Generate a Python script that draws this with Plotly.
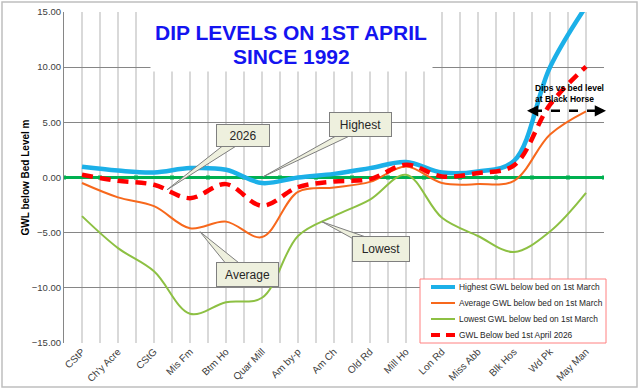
import plotly.graph_objects as go

# ---------------- data ----------------
stations = ["CStP", "Ch'y Acre", "CStG", "Mis Fm", "Btm Ho", "Quar Mill", "Am by-p",
            "Am Ch", "Old Rd", "Mill Ho", "Lon Rd", "Miss Abb", "Blk Hos", "Wd Pk", "May Man"]
highest = [0.97, 0.63, 0.45, 0.85, 0.70, -0.50, 0.00, 0.33, 0.85, 1.40, 0.45, 0.55, 1.50, 10.0, 15.5]
average = [-0.50, -1.80, -2.60, -4.60, -4.00, -5.40, -1.30, -0.90, -0.40, 1.00, -0.50, -0.60, -0.30, 3.90, 6.00]
lowest = [-3.50, -6.40, -8.50, -12.35, -11.30, -10.90, -5.30, -3.50, -2.00, 0.25, -3.65, -5.30, -6.75, -4.90, -1.40]
dip_2026 = [0.25, -0.30, -0.66, -1.87, -0.60, -2.56, -0.87, -0.36, -0.15, 1.15, 0.10, 0.40, 1.10, 6.60, 10.05]
bed_level = [0.0, 0.0, 0.0, 0.0, 0.0, 0.0, 0.0, 0.0, 0.0, 0.0, 0.0, 0.0, 0.0, 0.0, 0.0, 0.0]
y_ticks = [15, 10, 5, 0, -5, -10, -15]
series_names = ["Highest GWL below bed on 1st March", "Average GWL below bed on 1st March",
                "Lowest GWL below bed on 1st March", "GWL Below bed 1st April 2026"]

xs = list(range(len(stations)))
bounds = [i - 0.5 for i in range(len(stations) + 1)]

# helpers: pixel -> data / paper (for decoration placement only)
def xd(px):
    return (px - 82) / 36.0

def yd(py):
    return (177.7 - py) / 11.04

def xp(px):
    return (px - 64) / 540.0

def yp(py):
    return (343 - py) / 331.0

styles = {
    "highest": dict(color="#1CB0E8", width=4.5),
    "average": dict(color="#F7681C", width=2),
    "lowest": dict(color="#8DC043", width=2),
    "dip": dict(color="#FF0000", width=4.5, dash="11px,7px"),
}

fig = go.Figure()

fig.add_trace(go.Scatter(x=bounds, y=bed_level, mode="lines+markers",
                         line=dict(color="#00B050", width=3),
                         marker=dict(color="#00B050", size=4, symbol="square"),
                         showlegend=False, hoverinfo="skip"))
fig.add_trace(go.Scatter(x=xs, y=lowest, mode="lines", name=series_names[2], showlegend=False,
                         line=dict(**styles["lowest"], shape="spline", smoothing=1.0)))
fig.add_trace(go.Scatter(x=xs, y=average, mode="lines", name=series_names[1], showlegend=False,
                         line=dict(**styles["average"], shape="spline", smoothing=1.0)))
fig.add_trace(go.Scatter(x=xs, y=highest, mode="lines", name=series_names[0], showlegend=False,
                         line=dict(**styles["highest"], shape="spline", smoothing=1.0)))
fig.add_trace(go.Scatter(x=xs, y=dip_2026, mode="lines", name=series_names[3], showlegend=False,
                         line=dict(**styles["dip"], shape="spline", smoothing=1.0)))

shapes = []
annotations = []

# Title with white background
annotations.append(dict(x=xd(291.5), y=yd(41), xref="x", yref="y", text=" ",
                        showarrow=False, bgcolor="white", width=279, height=58))
annotations.append(dict(x=xd(291), y=yd(33), xref="x", yref="y", text="<b>DIP LEVELS ON 1ST APRIL</b>",
                        showarrow=False, font=dict(family="Liberation Sans, Arial", size=21, color="#1414F0")))
annotations.append(dict(x=xd(291), y=yd(57), xref="x", yref="y", text="<b>SINCE 1992</b>",
                        showarrow=False, font=dict(family="Liberation Sans, Arial", size=21, color="#1414F0")))

# Callouts
callouts = [
    ("2026", (216, 124, 270, 147), [(224, 145), (238, 145), (167, 190)]),
    ("Highest", (329, 112, 392, 137), [(338, 135), (352, 135), (263, 177)]),
    ("Average", (216, 262, 279, 287), [(226, 264), (240, 264), (200, 232)]),
    ("Lowest", (352, 236, 410, 262), [(355, 240), (368, 238), (322, 222)]),
]
for label, (x0, y0, x1, y1), tri in callouts:
    path = "M {} {} L {} {} L {} {} Z".format(xd(tri[0][0]), yd(tri[0][1]), xd(tri[2][0]), yd(tri[2][1]),
                                              xd(tri[1][0]), yd(tri[1][1]))
    shapes.append(dict(type="path", path=path, xref="x", yref="y", fillcolor="#EEF0DE",
                       line=dict(color="#7F7F7F", width=1), layer="above"))
    annotations.append(dict(x=xd((x0 + x1) / 2), y=yd((y0 + y1) / 2), xref="x", yref="y", text=label,
                            showarrow=False, font=dict(family="Liberation Sans, Arial", size=12, color="#262626"),
                            bgcolor="#EEF0DE", bordercolor="#7F7F7F", borderwidth=1,
                            width=x1 - x0 - 4, height=y1 - y0 - 4))

# Black Horse note
annotations.append(dict(x=xd(569), y=yd(94), xref="x", yref="y",
                        text="<b>Dips vs bed level<br>at Black Horse</b>", showarrow=False, align="left",
                        font=dict(family="Liberation Sans, Arial", size=8.5, color="black")))
shapes.append(dict(type="line", xref="x", yref="y", x0=xd(533), x1=xd(598), y0=yd(111), y1=yd(111),
                   line=dict(color="black", width=2.5, dash="dash"), layer="above"))
for tip, tail in ((527, 537), (606, 596)):
    annotations.append(dict(x=xd(tip), y=yd(111), ax=xd(tail), ay=yd(111), xref="x", yref="y",
                            axref="x", ayref="y", text="", showarrow=True, arrowhead=2,
                            arrowsize=0.9, arrowwidth=2.5, arrowcolor="black"))

# Legend box (drawn manually to match the compact Excel legend)
shapes.append(dict(type="rect", xref="paper", yref="paper", x0=xp(420), x1=xp(606), y0=yp(343), y1=yp(279),
                   fillcolor="white", line=dict(color="#FF8080", width=1), layer="above"))
legend_rows = [(series_names[0], styles["highest"]), (series_names[1], styles["average"]),
               (series_names[2], styles["lowest"]), (series_names[3], styles["dip"])]
for i, (name, st) in enumerate(legend_rows):
    ypx = 287 + 16 * i
    ln = dict(color=st["color"], width=min(st["width"], 4))
    if "dash" in st:
        ln["dash"] = "9px,6px"
    shapes.append(dict(type="line", xref="paper", yref="paper", x0=xp(431), x1=xp(455),
                       y0=yp(ypx), y1=yp(ypx), line=ln, layer="above"))
    annotations.append(dict(x=xp(457), y=yp(ypx), xref="paper", yref="paper", text=name,
                            xanchor="left", yanchor="middle", showarrow=False,
                            font=dict(family="Liberation Sans, Arial", size=8.4, color="#262626")))

# outer chart border
shapes.append(dict(type="rect", xref="paper", yref="paper",
                   x0=xp(2), x1=xp(637), y0=yp(387), y1=yp(2),
                   line=dict(color="#BFBFBF", width=1.5), layer="below"))

fig.update_layout(
    width=640, height=390,
    margin=dict(l=64, r=36, t=12, b=47, autoexpand=False),
    paper_bgcolor="white", plot_bgcolor="white",
    font=dict(family="Liberation Sans, Arial", size=10, color="#404040"),
    shapes=shapes, annotations=annotations, showlegend=False,
    xaxis=dict(range=[-0.5, len(stations) - 0.5], tickmode="array", tickvals=xs, ticktext=stations,
               tickangle=-45, showgrid=True, gridcolor="#D9D9D9", gridwidth=1.5,
               minor=dict(tickmode="array", tickvals=bounds, showgrid=True, gridcolor="#D9D9D9", gridwidth=1.5),
               zeroline=False, showline=False, ticks="", tickfont=dict(size=10, color="#404040"),
               fixedrange=True),
    yaxis=dict(range=[-15, 15], tickmode="array", tickvals=y_ticks, tickformat=".2f",
               showgrid=True, gridcolor="#868686", gridwidth=1, zeroline=False,
               showline=True, linecolor="#868686", linewidth=1, ticks="",
               tickfont=dict(size=9.5, color="#404040"), fixedrange=True,
               title=dict(text="<b>GWL below Bed Level m</b>", font=dict(size=10, color="black"), standoff=0)),
)

fig.write_html("out.html", config={"displayModeBar": False},
               post_script="document.body.style.margin='0';")
